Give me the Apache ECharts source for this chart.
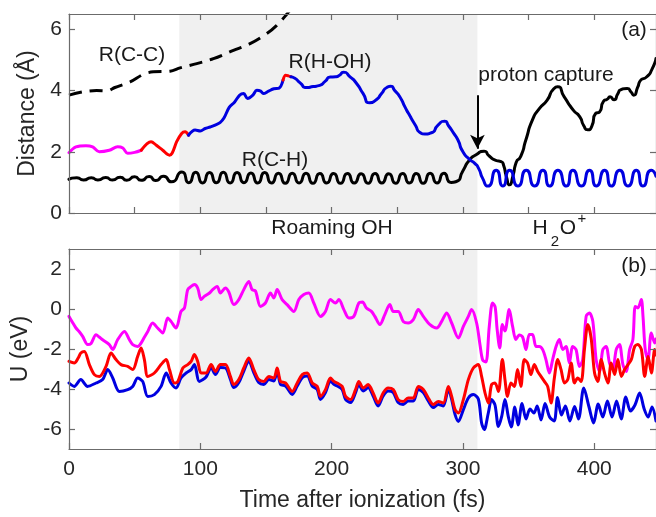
<!DOCTYPE html>
<html><head><meta charset="utf-8">
<script src="https://cdn.jsdelivr.net/npm/echarts@6/dist/echarts.min.js"></script>
<style>html,body{margin:0;padding:0;background:#fff}#c{width:656px;height:517px}</style>
</head><body><div id="c"></div>
<script>
// ---------- data (time in fs, distance in Å, energy in eV) ----------
const xTicksTop = [0,50,100,150,200,250,300,350,400];
const xTicksBottom = [0,100,200,300,400];
const yTicksTop = [0,2,4,6];
const yTicksBottom = [-6,-4,-2,0,2];
const shadeRange = [84, 311];

const rCC = [[0,3.85],[11,3.96],[21,4.0],[29,3.99],[35,4.1],[46.5,4.28],[56.6,4.53],[64.2,4.61],[77,4.63],[84.6,4.74],[97.3,4.88],[110,5.04],[125.2,5.31],[137.9,5.53],[150.6,5.86],[158.2,6.13],[165.8,6.49],[170,6.72]];

const rCH = [[0,1.10],[6,1.15],[11,1.08],[17,1.15],[22,1.08],[28,1.16],[33,1.08],[39,1.17],[44,1.07],[50,1.18],[55,1.07],[61,1.19],[66,1.06],[72,1.2],[78,1.02],[86,1.34],[91.2,0.99],[96.5,1.33],[101.7,0.98],[107,1.32],[112.2,0.99],[117.5,1.33],[122.7,0.98],[128,1.32],[133.2,0.99],[138.5,1.31],[143.7,0.98],[149,1.32],[154.2,0.98],[159.5,1.30],[164.7,0.97],[170,1.30],[175.2,0.98],[180.5,1.30],[185.7,0.97],[191,1.29],[196.2,0.98],[201.5,1.29],[206.7,0.97],[212,1.29],[217.2,0.98],[222.5,1.28],[227.7,0.97],[233,1.29],[238.2,0.98],[243.5,1.28],[248.7,0.97],[254,1.29],[259.2,0.98],[264.5,1.29],[269.7,0.97],[275,1.30],[280.2,0.98],[285.5,1.30],[291,1.0],[295,1.03],[300,1.38],[305,1.73],[310,1.9],[316,2.02],[320,1.86],[325,1.72],[329,1.68],[331,1.55],[333,1.2],[335.5,0.92],[338,1.2],[340.5,1.65],[344,1.85],[348,2.4],[353,3.05],[358,3.4],[364,3.68],[369,4.05],[372,4.12],[377,3.8],[384,3.36],[389,3.14],[392,2.85],[395,2.72],[398,2.82],[401,3.25],[404,3.3],[407,3.65],[410,3.72],[412,3.8],[415,3.7],[418,3.9],[420,4.02],[425,4.07],[428,3.95],[430,3.85],[433,4.1],[435,4.32],[440,4.45],[444,4.7],[447,5.05]];

const rHOH_magenta = [[0,1.97],[5.3,2.16],[12.9,2.2],[18,2.16],[23,2.0],[30.7,2.05],[37,2.16],[41,2.12],[44.7,1.95],[50,1.98],[55,2.05]];
const rHOH_red1 = [[55,2.05],[62.5,2.33],[66.3,2.22],[71.4,2.05],[76.5,1.89],[78.5,1.95],[82,2.33],[85.8,2.6],[88.4,2.65],[91,2.54]];
const rHOH_blue1 = [[91,2.54],[96,2.71],[100,2.68],[103.7,2.76],[107.5,2.81],[111.3,2.87],[115,2.95],[118,3.1],[122,3.45],[126,3.62],[130,3.85],[133,3.9],[136,3.74],[140,3.85],[143,4.01],[146,3.98],[148,3.9],[152,3.98],[156,4.06],[160,4.08],[163,4.34]];
const rHOH_red2 = [[163,4.34],[165,4.5],[167,4.48],[169,4.45]];
const rHOH_blue2 = [[169,4.45],[172,4.4],[176,4.25],[181,4.1],[186,4.13],[191,4.17],[195,4.3],[199,4.44],[203,4.45],[206,4.5],[209,4.6],[214,4.45],[219,4.23],[224,3.9],[229,3.6],[234,3.7],[238,3.9],[242,4.1],[245,4.14],[248,4.0],[252,3.79],[256,3.45],[260,3.14],[264,2.85],[267,2.64],[271,2.58],[276,2.62],[281,2.87],[286,3.0],[289,2.85],[293,2.6],[296,2.4],[300,2.0],[305,1.75],[309,1.62],[312,1.45],[315,1.13],[319,0.88],[325.3,1.40],[330.4,0.88],[335.5,1.40],[341.9,0.88],[348.2,1.40],[354.6,0.88],[360.9,1.40],[366,0.88],[372.3,1.40],[378.7,0.88],[383.7,1.40],[390.2,0.88],[396.4,1.40],[401.6,0.88],[407.9,1.40],[413,0.88],[419.3,1.40],[425.7,0.88],[432,1.40],[437.1,0.88],[443.4,1.40],[447,1.2]];

const uMagenta = [[0,-0.37],[2.5,-0.65],[5.3,-0.95],[8,-1.15],[10.4,-1.37],[14.2,-1.78],[16.8,-1.72],[20.6,-1.29],[23,-1.4],[25.6,-1.54],[30.7,-1.78],[33.3,-2.03],[37,-1.54],[42.2,-1.12],[46,-1.54],[48.5,-1.78],[52.3,-1.87],[54.9,-1.7],[57.5,-1.4],[60,-1.12],[63.7,-0.7],[67.5,-0.95],[71.4,-1.2],[75.2,-0.45],[77.7,-0.62],[81.5,-0.95],[85.3,-0.12],[87.9,0.05],[90.4,0.97],[93,1.13],[95.5,1.22],[98,1.05],[100.6,0.47],[103,0.63],[107,0.8],[109.4,0.97],[112.8,1.13],[115.3,0.8],[119.1,1.05],[121.7,0.85],[125.5,0.22],[129.3,0.47],[133.1,0.97],[136.9,1.38],[139.4,0.97],[142,0.9],[145.8,0.13],[149.6,0.3],[153.4,0.8],[156,0.55],[158.5,0.97],[162.3,0.47],[166.1,0.22],[171.2,-0.12],[175,0.47],[178.8,0.72],[182.6,0.8],[186.4,0.3],[191.5,-0.37],[195.3,-0.12],[199.1,0.47],[202.9,0.3],[205.5,0.47],[209.3,-0.03],[213.1,-0.45],[216.9,-0.37],[220.7,0.3],[223.5,0.35],[226.5,0.05],[230.3,-0.12],[232.9,-0.37],[236.7,-0.78],[240.5,-0.28],[244.3,0.22],[246.9,-0.12],[250.7,-0.12],[254.5,-0.62],[258.3,-0.7],[262.2,-0.53],[266,-0.03],[269.8,-0.37],[274.9,-0.78],[280,-0.95],[283.8,-0.62],[287.6,-0.2],[291.4,-0.7],[296.5,-1.45],[300.3,-0.87],[304.1,-0.37],[306.6,-0.03],[310.4,-0.7],[313,-1.8],[315,-2.55],[317.5,-2.65],[320,-0.9],[322.5,0.3],[324.5,0.1],[326,-1.0],[328,-1.95],[330,-0.78],[332,-1.1],[335.2,-0.03],[337.8,-0.87],[340.3,-1.53],[342.9,-1.3],[345.4,-1.4],[348,-2.03],[350.5,-1.28],[353,-1.28],[355.6,-1.87],[358.1,-1.87],[360.7,-2.03],[363.2,-2.53],[365.8,-3.2],[368.3,-2.53],[370.9,-1.87],[373.4,-1.53],[376,-2.03],[378.5,-1.87],[381,-2.7],[383.6,-1.87],[386.1,-2.03],[388.7,-2.87],[391.2,-2.53],[393.8,-0.37],[396.3,-0.2],[398.9,-0.62],[401.4,-2.53],[404,-3.12],[406.5,-2.03],[409,-1.87],[411.6,-2.7],[414.1,-3.03],[416.7,-2.03],[419.2,-1.78],[421.8,-2.78],[424.3,-3.12],[426.9,-2.03],[429.4,-1.53],[431.2,0.13],[433.2,0.05],[435.8,0.47],[437.1,-0.37],[438.8,-2.03],[440.9,-2.53],[443.4,-1.2],[446,-1.7],[447,-1.5]];

const uRed = [[0,-2.62],[4,-2.7],[7,-2.45],[9,-2.2],[11.7,-2.12],[15.5,-2.78],[19.3,-3.28],[23.1,-3.37],[28.2,-2.87],[32,-2.2],[35.8,-2.53],[39.6,-2.78],[44.7,-2.87],[48.5,-3.03],[52.3,-2.37],[54.9,-1.95],[57.4,-2.53],[60,-3.37],[65,-3.2],[70.1,-2.78],[74,-2.53],[76.5,-3.03],[80.3,-3.7],[82.9,-3.62],[86.7,-2.95],[90.4,-2.78],[93,-2.62],[95.5,-2.28],[98,-2.62],[100.6,-3.2],[104.4,-3.2],[108.2,-2.78],[111.5,-3.12],[115.3,-2.78],[119.1,-2.78],[122.9,-3.37],[125.5,-3.78],[129.3,-3.53],[133.1,-2.95],[136.9,-2.45],[140.7,-3.03],[144.5,-3.53],[148.4,-3.62],[152.2,-3.37],[156,-3.45],[158.5,-2.95],[161.1,-3.62],[164.9,-3.7],[170,-4.12],[173.8,-3.7],[177.6,-3.28],[181.4,-3.2],[185.2,-3.7],[189,-3.87],[191.5,-4.37],[195.3,-4.03],[199.1,-3.45],[201.7,-3.62],[204.2,-3.7],[208,-3.87],[210.6,-4.37],[214.4,-4.53],[218.2,-4.03],[220.7,-3.62],[224,-3.95],[227.8,-3.78],[231.6,-4.2],[235.4,-4.7],[239.2,-4.2],[243,-3.95],[246.9,-4.03],[250.7,-4.53],[254.5,-4.62],[258.3,-4.45],[262.2,-4.45],[266,-3.87],[269.8,-4.03],[273.6,-4.45],[277.4,-4.78],[281.2,-4.62],[285,-4.7],[288.9,-3.87],[291.4,-4.37],[294,-5.03],[296.5,-5.2],[300.3,-4.53],[304.1,-3.53],[307.9,-2.95],[311.7,-2.78],[314.2,-3.37],[316.8,-4.2],[319.3,-4.7],[321.8,-3.78],[324.4,-3.7],[327,-4.12],[330,-2.53],[332,-3.53],[333.9,-4.37],[336.5,-3.7],[339,-3.87],[341.6,-3.03],[344.1,-3.87],[346.7,-2.53],[349.2,-2.7],[351.8,-3.28],[354.3,-2.78],[356.9,-3.12],[359.4,-3.37],[362,-3.62],[364.5,-3.87],[367.1,-4.7],[369.6,-3.45],[372.2,-2.53],[374.7,-3.03],[377.3,-3.7],[379.8,-3.53],[382.4,-2.7],[384.9,-3.7],[387.4,-3.45],[390,-3.62],[392.5,-2.03],[395.1,-0.78],[397.6,-1.45],[400.2,-3.2],[402.7,-3.62],[405.3,-2.53],[407.8,-3.2],[410.4,-3.7],[412.9,-2.7],[415.5,-3.28],[418,-2.53],[420.6,-3.37],[423.1,-3.03],[425.7,-2.78],[428.2,-2.53],[430.8,-1.87],[433.3,-1.78],[435.9,-2.03],[438.4,-3.37],[441,-2.37],[443.5,-3.2],[446,-2.03],[447,-2.3]];

const uBlue = [[0,-3.7],[4,-3.87],[9,-3.53],[14.2,-3.87],[20.6,-3.7],[25.6,-3.53],[29.5,-3.03],[33.3,-3.45],[38.4,-4.12],[44.7,-4.03],[48.5,-3.87],[52.3,-3.45],[56.1,-3.62],[60,-4.37],[65,-4.28],[70.1,-3.87],[74,-3.2],[77.7,-3.7],[81.5,-3.95],[85.3,-3.45],[89.2,-3.2],[93,-3.03],[95.5,-2.78],[99.3,-3.62],[104.4,-3.4],[108.2,-2.93],[111.5,-3.27],[115.3,-2.93],[119.1,-2.95],[122.9,-3.52],[125.5,-3.93],[129.3,-3.68],[133.1,-3.1],[136.9,-2.6],[140.7,-3.18],[144.5,-3.68],[148.4,-3.77],[152.2,-3.52],[156,-3.6],[158.5,-3.1],[161.1,-3.77],[164.9,-3.85],[170,-4.27],[173.8,-3.85],[177.6,-3.43],[181.4,-3.35],[185.2,-3.85],[189,-4.02],[191.5,-4.52],[195.3,-4.18],[199.1,-3.6],[201.7,-3.77],[204.2,-3.85],[208,-4.02],[210.6,-4.52],[214.4,-4.68],[218.2,-4.18],[220.7,-3.77],[224,-4.1],[227.8,-3.93],[231.6,-4.35],[235.4,-4.85],[239.2,-4.35],[243,-4.1],[246.9,-4.18],[250.7,-4.68],[254.5,-4.77],[258.3,-4.6],[262.2,-4.6],[266,-4.02],[269.8,-4.18],[273.6,-4.6],[277.4,-4.93],[281.2,-4.77],[285,-4.85],[288.9,-4.02],[291.4,-4.52],[294,-5.28],[296.5,-5.62],[300.3,-5.03],[304.1,-4.45],[307.9,-4.28],[311.7,-4.5],[314.2,-5.7],[316.2,-6.03],[319.3,-5.2],[321.8,-4.53],[324.4,-4.8],[327,-5.87],[329.5,-5.37],[332,-4.53],[334.5,-5.37],[336.8,-5.9],[339.5,-4.9],[342,-5.8],[345,-4.73],[348,-5.5],[351,-5.0],[354,-5.2],[356.5,-4.85],[359.5,-5.55],[362.5,-4.73],[366,-5.4],[369.5,-5.6],[372,-4.43],[375,-5.3],[378,-4.85],[381.4,-5.6],[385,-4.87],[388,-5.5],[392,-3.95],[396,-4.9],[399.5,-5.7],[403,-4.75],[406.5,-5.4],[410,-4.6],[413.5,-5.4],[417,-4.6],[420.5,-5.5],[424,-4.4],[427.5,-5.1],[431,-4.8],[434.5,-4.2],[438,-5.0],[441,-5.4],[444,-4.9],[447,-5.6]];

// ---------- styling ----------
const FONT = "'Liberation Sans', Arial, sans-serif";
const AXC = '#6b6b6b';
const TXT = '#262626';
const MAGENTA = '#ff00ff', RED = '#ff0000', BLUE = '#0000e0', BLACK = '#000000';

function xAx(gi, pos, ticks, labels, name) {
  return {
    type: 'value', gridIndex: gi, position: pos, min: 0, max: 447, z: 10,
    name: name || '', nameLocation: 'middle', nameGap: 40,
    nameTextStyle: {fontSize: 23, color: TXT, fontFamily: FONT},
    axisLine: {show: true, onZero: false, lineStyle: {color: AXC, width: 1.2}},
    axisTick: {show: true, inside: true, length: 6, customValues: ticks, lineStyle: {color: AXC, width: 1.2}},
    axisLabel: {show: !!labels, customValues: labels || ticks, fontSize: 21, color: TXT, fontFamily: FONT, margin: 10},
    splitLine: {show: false}
  };
}
function yAx(gi, pos, min, max, ticks, labels, name) {
  return {
    type: 'value', gridIndex: gi, position: pos, min: min, max: max, z: 10,
    name: name || '', nameLocation: 'middle', nameGap: 30, nameRotate: 90,
    nameTextStyle: {fontSize: 23, color: TXT, fontFamily: FONT},
    axisLine: {show: true, onZero: false, lineStyle: {color: AXC, width: 1.2}},
    axisTick: {show: true, inside: true, length: 6, customValues: ticks, lineStyle: {color: AXC, width: 1.2}},
    axisLabel: {show: !!labels, customValues: labels || ticks, fontSize: 21, color: TXT, fontFamily: FONT, margin: 7},
    splitLine: {show: false}
  };
}
function ln(data, color, xi, yi, extra) {
  return Object.assign({
    type: 'line', data: data, xAxisIndex: xi, yAxisIndex: yi,
    showSymbol: false, symbol: 'none', smooth: 0.35, z: 3, silent: true,
    lineStyle: {color: color, width: 3, cap: 'round', join: 'round'}
  }, extra || {});
}
function shade(xi, yi) {
  return {
    type: 'line', data: [], xAxisIndex: xi, yAxisIndex: yi, z: 1, silent: true,
    markArea: {silent: true, itemStyle: {color: '#f0f0f0'},
      data: [[{xAxis: shadeRange[0]}, {xAxis: shadeRange[1]}]]}
  };
}
function txt(x, y, s, size, extra) {
  return Object.assign({type: 'text', x: x, y: y, z: 20,
    style: {text: s, fill: '#1a1a1a', font: size + 'px ' + FONT, align: 'center', verticalAlign: 'middle'}}, extra || {});
}

const chart = echarts.init(document.getElementById('c'), null, {renderer: 'canvas'});
chart.setOption({
  animation: false,
  backgroundColor: '#ffffff',
  grid: [
    {left: 69, top: 14, width: 587, height: 199},
    {left: 69, top: 249, width: 587, height: 200}
  ],
  xAxis: [
    xAx(0, 'bottom', xTicksTop, null),
    xAx(0, 'top', xTicksTop, null),
    xAx(1, 'bottom', xTicksBottom, xTicksBottom, 'Time after ionization (fs)'),
    xAx(1, 'top', xTicksBottom, null)
  ],
  yAxis: [
    yAx(0, 'left', 0, 6.5, yTicksTop, yTicksTop, 'Distance (Å)'),
    yAx(0, 'right', 0, 6.5, yTicksTop, null),
    yAx(1, 'left', -7, 3, yTicksBottom, yTicksBottom, 'U (eV)'),
    yAx(1, 'right', -7, 3, yTicksBottom, null)
  ],
  series: [
    shade(0, 0),
    shade(2, 2),
    ln(rCH, BLACK, 0, 0, {smooth: 0.75,
      markLine: {silent: true, symbol: ['none', 'arrow'], symbolSize: [11, 14],
        lineStyle: {color: '#000', width: 2, type: 'solid'}, label: {show: false},
        data: [[{coord: [311, 3.85]}, {coord: [311, 2.1]}]]}}),
    ln(rHOH_magenta, MAGENTA, 0, 0),
    ln(rHOH_red1, RED, 0, 0),
    ln(rHOH_blue1, BLUE, 0, 0),
    ln(rHOH_red2, RED, 0, 0),
    ln(rHOH_blue2, BLUE, 0, 0, {smooth: 0.75}),
    ln(rCC, BLACK, 0, 0, {lineStyle: {color: BLACK, width: 3, type: [13, 8]}}),
    ln(uMagenta, MAGENTA, 2, 2, {smooth: 0.3}),
    ln(uBlue, BLUE, 2, 2, {smooth: 0.3}),
    ln(uRed, RED, 2, 2, {smooth: 0.3})
  ],
  graphic: [
    txt(132, 55, 'R(C-C)', 21),
    txt(330, 62, 'R(H-OH)', 21),
    txt(275, 160, 'R(C-H)', 21),
    txt(546, 75, 'proton capture', 21),
    txt(332, 228, 'Roaming OH', 21),
    txt(540, 228, 'H', 21),
    txt(555, 242, '2', 15),
    txt(568, 228, 'O', 21),
    txt(582, 219, '+', 15),
    txt(634, 30, '(a)', 21),
    txt(634, 266, '(b)', 21)
  ]
});
</script></body></html>
